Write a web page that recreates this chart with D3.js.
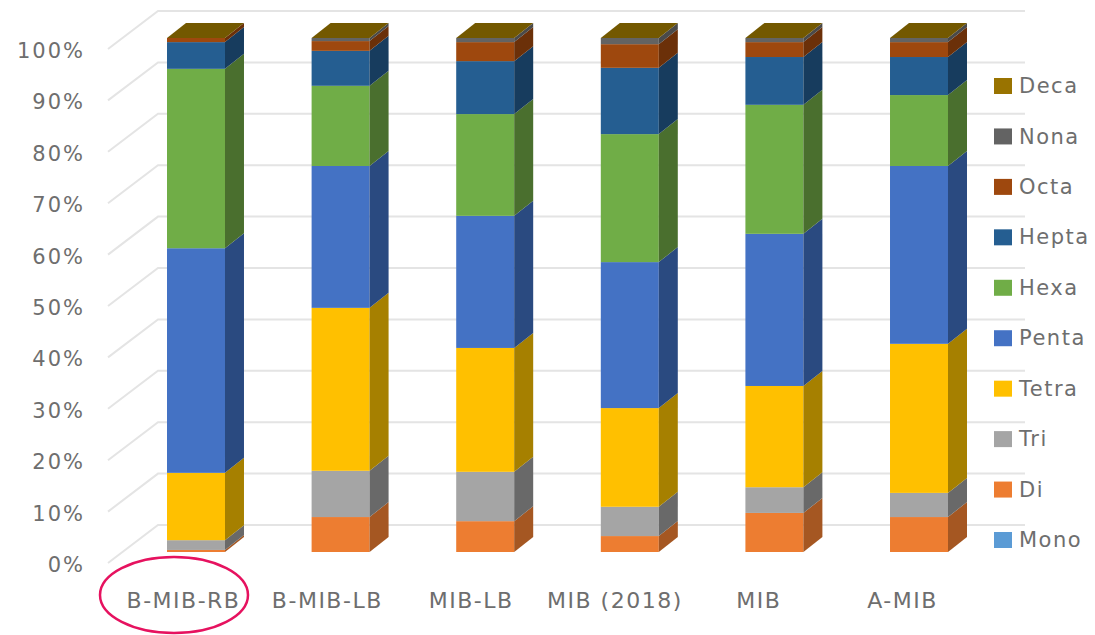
<!DOCTYPE html>
<html>
<head>
<meta charset="utf-8">
<script src="https://cdn.jsdelivr.net/npm/d3@7"></script>
<style>
  html, body { margin: 0; background: #fff; }
  svg { display: block; }
  text { font-family: "DejaVu Sans", sans-serif; font-size: 21px; letter-spacing: 1.5px; fill: #6e6e6e; }
  .x-axis text { font-size: 22px; }
  .y-axis text { letter-spacing: 2px; }
</style>
</head>
<body>
<svg id="chart" width="1095" height="635"></svg>
<script>
// ── Data ──────────────────────────────────────────────────────────────────────
const categories = ['B-MIB-RB', 'B-MIB-LB', 'MIB-LB', 'MIB (2018)', 'MIB', 'A-MIB'];
const seriesNames = ['Mono', 'Di', 'Tri', 'Tetra', 'Penta', 'Hexa', 'Hepta', 'Octa', 'Nona', 'Deca'];

// percent share per category, same order as categories
const mono  = [0, 0, 0, 0, 0, 0];
const di    = [0.4, 6.8, 6.0, 3.1, 7.6, 6.8];
const tri   = [1.9, 9.0, 9.6, 5.7, 5.0, 4.7];
const tetra = [13.1, 31.7, 24.1, 19.2, 19.7, 29.0];
const penta = [43.7, 27.6, 25.7, 28.4, 29.6, 34.6];
const hexa  = [34.9, 15.6, 19.8, 24.9, 25.1, 13.8];
const hepta = [5.2, 6.8, 10.3, 12.9, 9.3, 7.4];
const octa  = [0.8, 1.9, 3.7, 4.6, 2.9, 2.9];
const nona  = [0, 0.6, 0.8, 1.2, 0.8, 0.8];
const deca  = [0, 0, 0, 0, 0, 0];
const seriesValues = [mono, di, tri, tetra, penta, hexa, hepta, octa, nona, deca];

const percentTicks = d3.range(0, 101, 10);

// ── Colours ───────────────────────────────────────────────────────────────────
const front = d3.scaleOrdinal(seriesNames,
  ['#5b9bd5', '#ed7d31', '#a5a5a5', '#ffc000', '#4472c4', '#70ad47', '#255e91', '#9e480e', '#636363', '#997300']);
// side faces are the front colour darkened
const side = d3.scaleOrdinal(seriesNames,
  ['#3f6c95', '#a55722', '#696969', '#a68000', '#2a4a80', '#4a6f2e', '#173c5e', '#6b3009', '#4a4a4a', '#6b5100']);
const capColor = '#735800';

// ── Scales ────────────────────────────────────────────────────────────────────
const svg = d3.select('#chart');
const y = d3.scaleLinear().domain([0, 100]).range([552, 38]);
const x = d3.scaleBand().domain(categories).range([94.7, 1020.3]).paddingInner(0.599).paddingOuter(0.5);
// category labels sit left of the columns because of the 3D projection
const xLabels = d3.scalePoint().domain(categories).range([183, 902]);

const depth = { dx: 19, dy: -15 };      // bar depth offset
const wall = { x0: 108, x1: 158, x2: 1025, front: 11, back: -27 };

// ── Gridlines: floor-side stub plus the back wall line ────────────────────────
const grid = svg.append('g').attr('fill', 'none').attr('stroke', '#e4e4e4').attr('stroke-width', 2);
grid.selectAll('path').data(percentTicks).enter().append('path')
  .attr('d', d => {
    const p = d3.path();
    p.moveTo(wall.x0, y(d) + wall.front);
    p.lineTo(wall.x1, y(d) + wall.back);
    p.lineTo(wall.x2, y(d) + wall.back);
    return p.toString();
  });

// ── Stacked bars ──────────────────────────────────────────────────────────────
const rows = categories.map((c, i) => {
  const row = { category: c };
  seriesNames.forEach((s, j) => { row[s] = seriesValues[j][i]; });
  return row;
});
const stacked = d3.stack().keys(seriesNames)(rows);

const bars = svg.append('g');
stacked.forEach(layer => {
  const g = bars.append('g');
  layer.filter(d => d[1] > d[0]).forEach(d => {
    const x0 = x(d.data.category), w = x.bandwidth();
    const top = y(d[1]), bottom = y(d[0]);
    g.append('rect')
      .attr('x', x0).attr('y', top).attr('width', w).attr('height', bottom - top)
      .attr('fill', front(layer.key));
    g.append('path')
      .attr('d', `M${x0 + w},${bottom}L${x0 + w + depth.dx},${bottom + depth.dy}` +
                 `L${x0 + w + depth.dx},${top + depth.dy}L${x0 + w},${top}Z`)
      .attr('fill', side(layer.key));
  });
});

// top face of each column
bars.append('g').selectAll('path').data(categories).enter().append('path')
  .attr('fill', capColor)
  .attr('d', c => {
    const x0 = x(c), w = x.bandwidth(), t = y(100);
    return `M${x0},${t}L${x0 + w},${t}L${x0 + w + depth.dx},${t + depth.dy}L${x0 + depth.dx},${t + depth.dy}Z`;
  });

// ── Axes ──────────────────────────────────────────────────────────────────────
const yAxis = svg.append('g')
  .attr('class', 'y-axis')
  .attr('transform', `translate(85,${wall.front + 1})`)
  .call(d3.axisLeft(y).tickValues(percentTicks).tickFormat(d => d + '%').tickSize(0).tickPadding(0));
yAxis.select('.domain').remove();
yAxis.selectAll('text').attr('dy', '0.36em');

const xAxis = svg.append('g')
  .attr('class', 'x-axis')
  .attr('transform', 'translate(0,592)')
  .call(d3.axisBottom(xLabels).tickSize(0).tickPadding(0));
xAxis.select('.domain').remove();

// ── Legend ────────────────────────────────────────────────────────────────────
const legendY = d3.scalePoint().domain(seriesNames.slice().reverse()).range([86, 540]);
const legend = svg.append('g').selectAll('g').data(seriesNames).enter().append('g')
  .attr('transform', d => `translate(994,${legendY(d)})`);
legend.append('rect')
  .attr('y', -8).attr('width', 18).attr('height', 16)
  .attr('fill', d => front(d));
legend.append('text')
  .attr('x', 25).attr('dy', '0.34em')
  .text(d => d);

// ── Highlight ring round the first category ───────────────────────────────────
svg.append('ellipse')
  .attr('cx', 174).attr('cy', 595).attr('rx', 74).attr('ry', 38)
  .attr('fill', 'none').attr('stroke', '#e6125f').attr('stroke-width', 2.5);
</script>
</body>
</html>
